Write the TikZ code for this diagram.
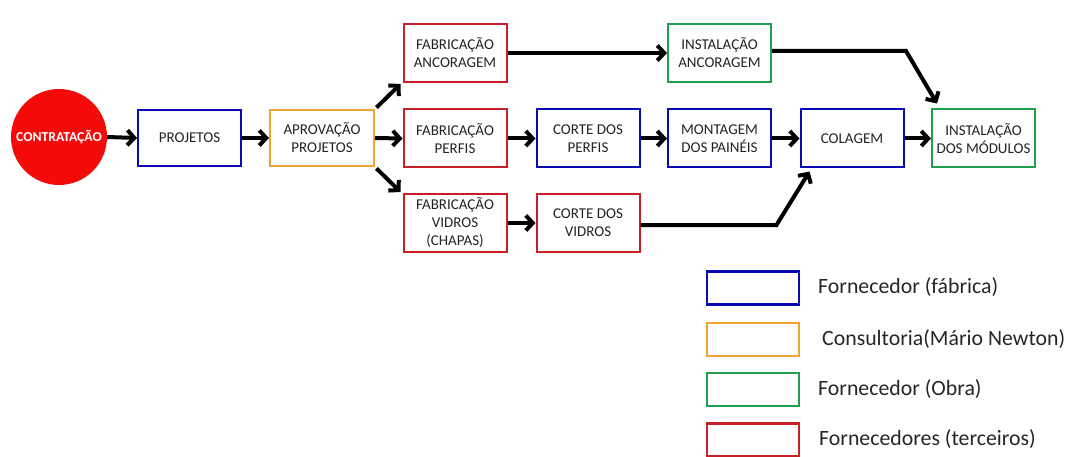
\documentclass[tikz,border=0pt]{standalone}
\usepackage{fontspec}
\setmainfont{Carlito}
\usetikzlibrary{arrows.meta,calc}
\definecolor{cred}{RGB}{200,30,40}
\definecolor{cblue}{RGB}{10,10,180}
\definecolor{corange}{RGB}{240,165,50}
\definecolor{cgreen}{RGB}{30,160,80}
\definecolor{ctext}{RGB}{35,35,35}
\definecolor{circred}{RGB}{245,10,10}
\tikzset{
  box/.style={draw, line width=2pt, rectangle, minimum width=103pt, minimum height=58pt,
    align=center, inner sep=2pt, text=ctext, font=\fontsize{15}{18}\selectfont},
  redbox/.style={box, draw=cred},
  bluebox/.style={box, draw=cblue},
  orangebox/.style={box, draw=corange},
  greenbox/.style={box, draw=cgreen},
  conn/.style={line width=4pt, -{Straight Barb[length=7pt,width=15pt,line width=4pt]}, line join=miter},
  legbox/.style={draw, line width=2.5pt, rectangle, minimum width=92pt, minimum height=33pt},
  legtext/.style={anchor=west, inner sep=0pt, text=black!85, font=\fontsize{21.8}{25}\selectfont},
}
\begin{document}
\begin{tikzpicture}[x=1pt,y=-1pt]
\useasboundingbox (0,0) rectangle (1067,457);
\node[circle, fill=circred, minimum size=96pt, inner sep=0pt, text=white,
  font=\bfseries\fontsize{13.7}{16}\selectfont] (contr) at (59,137) {CONTRATAÇÃO};
\node[bluebox, minimum height=56pt] (proj) at (189.5,138) {PROJETOS};
\node[orangebox, minimum width=104pt, minimum height=56pt] (aprov) at (322,138) {APROVAÇÃO\\PROJETOS};
\node[redbox] (fanc) at (455,53) {FABRICAÇÃO\\ANCORAGEM};
\node[redbox] (fperf) at (455,138.5) {FABRICAÇÃO\\PERFIS};
\node[redbox] (fvid) at (455,223) {FABRICAÇÃO\\VIDROS\\(CHAPAS)};
\node[bluebox] (cperf) at (588,138.5) {CORTE DOS\\PERFIS};
\node[redbox] (cvid) at (588,223) {CORTE DOS\\VIDROS};
\node[greenbox] (ianc) at (719.5,53) {INSTALAÇÃO\\ANCORAGEM};
\node[bluebox] (mont) at (719.5,138.5) {MONTAGEM\\DOS PAINÉIS};
\node[bluebox] (colag) at (852,138.5) {COLAGEM};
\node[greenbox] (imod) at (983.5,138.5) {INSTALAÇÃO\\DOS MÓDULOS};

\draw[conn] (contr.east) -- (proj.west);
\draw[conn] (proj.east) -- (aprov.west);
\draw[conn, shorten <=2pt] (aprov.north east) -- ([xshift=-2pt,yshift=-1pt]fanc.south west);
\draw[conn] (aprov.east) -- (fperf.west);
\draw[conn, shorten <=2pt] (aprov.south east) -- ([xshift=-2pt,yshift=1pt]fvid.north west);
\draw[conn] (fanc.east) -- (ianc.west);
\draw[conn] (fperf.east) -- (cperf.west);
\draw[conn] (fvid.east |- cvid.west) -- (cvid.west);
\draw[conn] (cperf.east) -- (mont.west);
\draw[conn] (mont.east) -- (colag.west);
\draw[conn] (colag.east) -- (imod.west);
\draw[conn] ([yshift=2pt]ianc.east) -- ++(134,0) -- ([xshift=6pt,yshift=5pt]imod.north west);
\draw[conn] ([yshift=-2pt]cvid.east) -- ++(136,0) -- ([xshift=10pt,yshift=-3pt]colag.south west);

\node[legbox, draw=cblue] (lb1) at (753,288) {};
\node[legbox, draw=corange] (lb2) at (753,339.5) {};
\node[legbox, draw=cgreen] (lb3) at (753,389.5) {};
\node[legbox, draw=cred] (lb4) at (753,440) {};
\node[legtext] (lt1) at (818,287) {Fornecedor (fábrica)};
\node[legtext] (lt2) at (822,339) {Consultoria(Mário Newton)};
\node[legtext] (lt3) at (818,389) {Fornecedor (Obra)};
\node[legtext] (lt4) at (819,439) {Fornecedores (terceiros)};
\end{tikzpicture}
\end{document}
